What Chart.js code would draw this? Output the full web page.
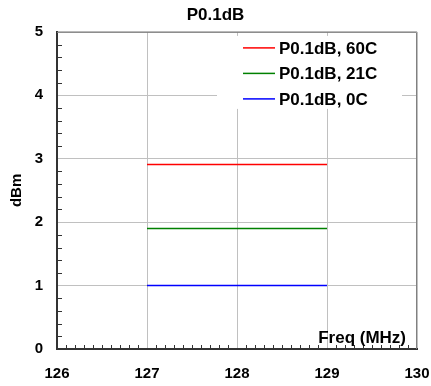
<!DOCTYPE html>
<html>
<head>
<meta charset="utf-8">
<script src="https://cdn.jsdelivr.net/npm/chart.js@4"></script>
<style>
  body { margin: 0; background: #fff; }
  canvas { display: block; }
</style>
</head>
<body>
<canvas id="chart" width="431" height="386"></canvas>
<script>
// Data
const freqs = [127, 129];
const p60C = [2.91, 2.91];
const p21C = [1.9, 1.9];
const p0C = [1.0, 1.0];
const seriesLabels = ['P0.1dB, 60C', 'P0.1dB, 21C', 'P0.1dB, 0C'];
const seriesColors = ['#ff0000', '#008000', '#0000ff'];

const FONT = '"Liberation Sans", Arial, sans-serif';
const AXIS = '#333333';

function toPoints(ys) {
    return freqs.map((f, i) => ({ x: f, y: ys[i] }));
}

// Minor ticks, top/right frame, legend box, and the in-plot x title
const extras = {
    id: 'extras',
    beforeDatasetsDraw(chart) {
        const ctx = chart.ctx;
        const a = chart.chartArea;
        const xs = chart.scales.x;
        const ys = chart.scales.y;
        ctx.save();

        // frame on top and right
        ctx.strokeStyle = '#808080';
        ctx.lineWidth = 1;
        ctx.beginPath();
        ctx.moveTo(a.left, a.top + 0.5);
        ctx.lineTo(a.right - 0.5, a.top + 0.5);
        ctx.lineTo(a.right - 0.5, a.bottom);
        ctx.stroke();

        // minor ticks
        ctx.strokeStyle = AXIS;
        ctx.lineWidth = 1;
        ctx.beginPath();
        for (let i = 1; i < 40; i++) {
            if (i % 10 === 0) continue;
            const px = Math.round(xs.getPixelForValue(126 + i / 10)) + 0.5;
            ctx.moveTo(px, a.bottom);
            ctx.lineTo(px, a.bottom - 4);
        }
        for (let i = 1; i < 25; i++) {
            if (i % 5 === 0) continue;
            const py = Math.round(ys.getPixelForValue(i / 5)) + 0.5;
            ctx.moveTo(a.left, py);
            ctx.lineTo(a.left + 5, py);
        }
        ctx.stroke();

        // legend box
        const bx = a.right - 200, by = a.top + 4;
        ctx.fillStyle = '#fff';
        ctx.fillRect(bx, by, 185, 73);
        ctx.font = 'bold 17px ' + FONT;
        ctx.textBaseline = 'middle';
        ctx.textAlign = 'left';
        chart.data.datasets.forEach((ds, i) => {
            const rowY = a.top + 16 + i * 25.5;
            ctx.strokeStyle = ds.borderColor;
            ctx.lineWidth = 1.5;
            ctx.beginPath();
            ctx.moveTo(bx + 26, rowY);
            ctx.lineTo(bx + 58, rowY);
            ctx.stroke();
            ctx.fillStyle = '#000';
            ctx.fillText(ds.label, bx + 62, rowY + 1);
        });

        // x axis title inside the plot
        ctx.font = 'bold 17px ' + FONT;
        ctx.textAlign = 'right';
        ctx.textBaseline = 'alphabetic';
        ctx.fillStyle = '#000';
        ctx.fillText('Freq (MHz)', a.right - 11, a.bottom - 6);
        ctx.restore();
    }
};

const ctx = document.getElementById('chart').getContext('2d');
new Chart(ctx, {
    type: 'line',
    data: {
        datasets: [p60C, p21C, p0C].map((ys, i) => ({
            label: seriesLabels[i],
            data: toPoints(ys),
            borderColor: seriesColors[i],
            backgroundColor: seriesColors[i],
            borderWidth: 1.5,
            pointRadius: 0,
            fill: false
        }))
    },
    options: {
        responsive: false,
        animation: false,
        layout: { padding: 0 },
        plugins: {
            legend: { display: false },
            tooltip: { enabled: false },
            title: {
                display: true,
                text: 'P0.1dB',
                color: '#000',
                font: { family: FONT, size: 17, weight: 'bold' },
                padding: { top: 5.5, bottom: 6 }
            }
        },
        scales: {
            x: {
                type: 'linear',
                min: 126,
                max: 130,
                ticks: {
                    stepSize: 1,
                    color: '#000',
                    padding: 16,
                    font: { family: FONT, size: 15, weight: 'bold' }
                },
                grid: { color: '#c0c0c0', drawTicks: false },
                border: { color: AXIS, width: 2 },
                afterFit: (scale) => {
                    scale.height = 37;
                    scale.paddingLeft = 0;
                    scale.paddingRight = 14;
                }
            },
            y: {
                min: 0,
                max: 5,
                ticks: {
                    stepSize: 1,
                    color: '#000',
                    padding: 14,
                    font: { family: FONT, size: 15, weight: 'bold' }
                },
                grid: { color: '#c0c0c0', drawTicks: false },
                border: { color: AXIS, width: 2 },
                title: {
                    display: true,
                    text: 'dBm',
                    color: '#000',
                    font: { family: FONT, size: 15, weight: 'bold' },
                    padding: { top: 8 }
                },
                afterFit: (scale) => { scale.width = 57; }
            }
        }
    },
    plugins: [extras]
});
</script>
</body>
</html>
